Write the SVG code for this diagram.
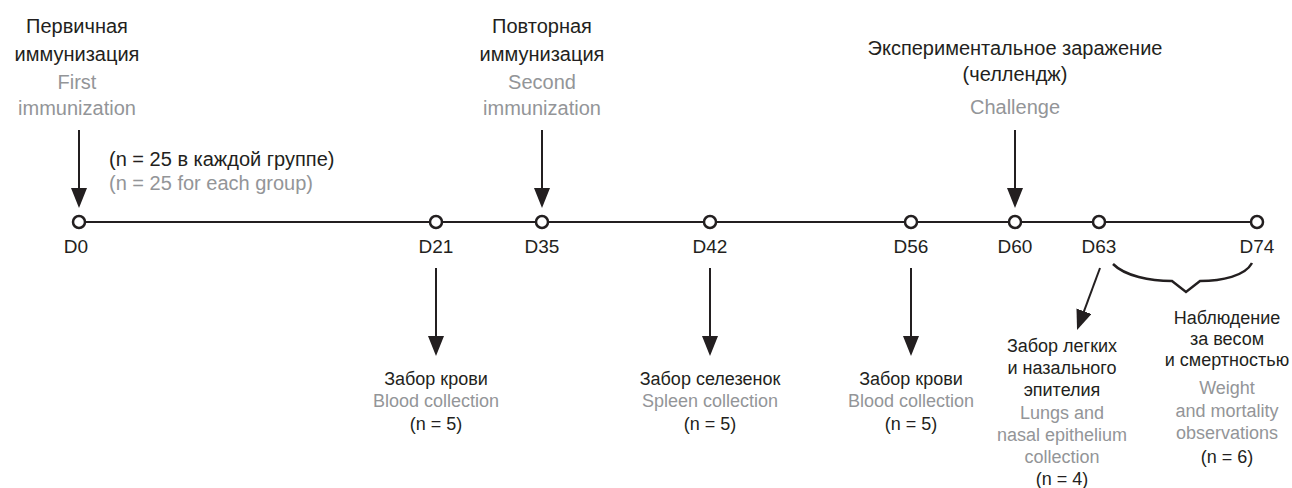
<svg xmlns="http://www.w3.org/2000/svg" width="1292" height="488" viewBox="0 0 1292 488">
<defs>
<style>
text{font-family:"Liberation Sans",Arial,sans-serif;text-anchor:middle}
.t{font-size:20px;fill:#231f20}
.g{font-size:20px;fill:#939598}
.d{font-size:19px;fill:#231f20}
.b{font-size:18px;fill:#231f20}
.bg{font-size:18px;fill:#939598}
.st{text-anchor:start}
.ax{stroke:#231f20;stroke-width:2;fill:none}
.arr{stroke:#231f20;stroke-width:2;fill:none;marker-end:url(#ah)}
.dot{fill:#fff;stroke:#231f20;stroke-width:2.5}
</style>
<marker id="ah" markerUnits="userSpaceOnUse" markerWidth="20" markerHeight="16" refX="2" refY="8" orient="auto" viewBox="0 0 20 16">
<path d="M0,0 L20,8 L0,16 z" fill="#231f20"/>
</marker>
</defs>
<rect width="1292" height="488" fill="#fff"/>
<g id="connectors">
<line class="ax" x1="79" y1="222" x2="1257" y2="222"/>
<line class="arr" x1="79" y1="130" x2="79" y2="190"/>
<line class="arr" x1="542" y1="130" x2="542" y2="190"/>
<line class="arr" x1="1015" y1="130" x2="1015" y2="190"/>
<line class="arr" x1="436" y1="268" x2="436" y2="338"/>
<line class="arr" x1="710" y1="268" x2="710" y2="338"/>
<line class="arr" x1="911" y1="268" x2="911" y2="338"/>
<line class="arr" x1="1100" y1="268" x2="1083.3" y2="313.1"/>
<path d="M1113,264 C1125,276 1150,281 1172,281 L1186,292 L1200,281 C1222,281 1245,276 1252,263" stroke="#231f20" stroke-width="2.5" fill="none" stroke-linejoin="miter"/>
</g>
<g id="D0"><circle class="dot" cx="79" cy="222" r="6"/><text class="d" x="76" y="253">D0</text></g>
<g id="D21"><circle class="dot" cx="436" cy="222" r="6"/><text class="d" x="436" y="253">D21</text></g>
<g id="D35"><circle class="dot" cx="542" cy="222" r="6"/><text class="d" x="542" y="253">D35</text></g>
<g id="D42"><circle class="dot" cx="710" cy="222" r="6"/><text class="d" x="710" y="253">D42</text></g>
<g id="D56"><circle class="dot" cx="911" cy="222" r="6"/><text class="d" x="911" y="253">D56</text></g>
<g id="D60"><circle class="dot" cx="1015" cy="222" r="6"/><text class="d" x="1015" y="253">D60</text></g>
<g id="D63"><circle class="dot" cx="1099" cy="222" r="6"/><text class="d" x="1099" y="253">D63</text></g>
<g id="D74"><circle class="dot" cx="1257" cy="222" r="6"/><text class="d" x="1257" y="253">D74</text></g>
<g id="first-immunization">
<text class="t" x="77" y="33">Первичная</text>
<text class="t" x="77" y="61">иммунизация</text>
<text class="g" x="77" y="89">First</text>
<text class="g" x="77" y="115">immunization</text>
</g>
<g id="group-size">
<text class="t st" x="109" y="166">(n = 25 в каждой группе)</text>
<text class="g st" x="109" y="190">(n = 25 for each group)</text>
</g>
<g id="second-immunization">
<text class="t" x="542" y="33">Повторная</text>
<text class="t" x="542" y="61">иммунизация</text>
<text class="g" x="542" y="89">Second</text>
<text class="g" x="542" y="115">immunization</text>
</g>
<g id="challenge">
<text class="t" x="1015" y="55">Экспериментальное заражение</text>
<text class="t" x="1015" y="81">(челлендж)</text>
<text class="g" x="1015" y="114">Challenge</text>
</g>
<g id="blood-d21">
<text class="b" x="436" y="385">Забор крови</text>
<text class="bg" x="436" y="407">Blood collection</text>
<text class="b" x="436" y="430">(n = 5)</text>
</g>
<g id="spleen-d42">
<text class="b" x="710" y="385">Забор селезенок</text>
<text class="bg" x="710" y="407">Spleen collection</text>
<text class="b" x="710" y="430">(n = 5)</text>
</g>
<g id="blood-d56">
<text class="b" x="911" y="385">Забор крови</text>
<text class="bg" x="911" y="407">Blood collection</text>
<text class="b" x="911" y="430">(n = 5)</text>
</g>
<g id="lungs-d63">
<text class="b" x="1062" y="352">Забор легких</text>
<text class="b" x="1062" y="374">и назального</text>
<text class="b" x="1062" y="396">эпителия</text>
<text class="bg" x="1062" y="419">Lungs and</text>
<text class="bg" x="1062" y="441">nasal epithelium</text>
<text class="bg" x="1062" y="463">collection</text>
<text class="b" x="1062" y="485">(n = 4)</text>
</g>
<g id="weight-observation">
<text class="b" x="1227" y="324">Наблюдение</text>
<text class="b" x="1227" y="345">за весом</text>
<text class="b" x="1227" y="366">и смертностью</text>
<text class="bg" x="1227" y="394">Weight</text>
<text class="bg" x="1227" y="417">and mortality</text>
<text class="bg" x="1227" y="439">observations</text>
<text class="b" x="1227" y="463">(n = 6)</text>
</g>
</svg>
